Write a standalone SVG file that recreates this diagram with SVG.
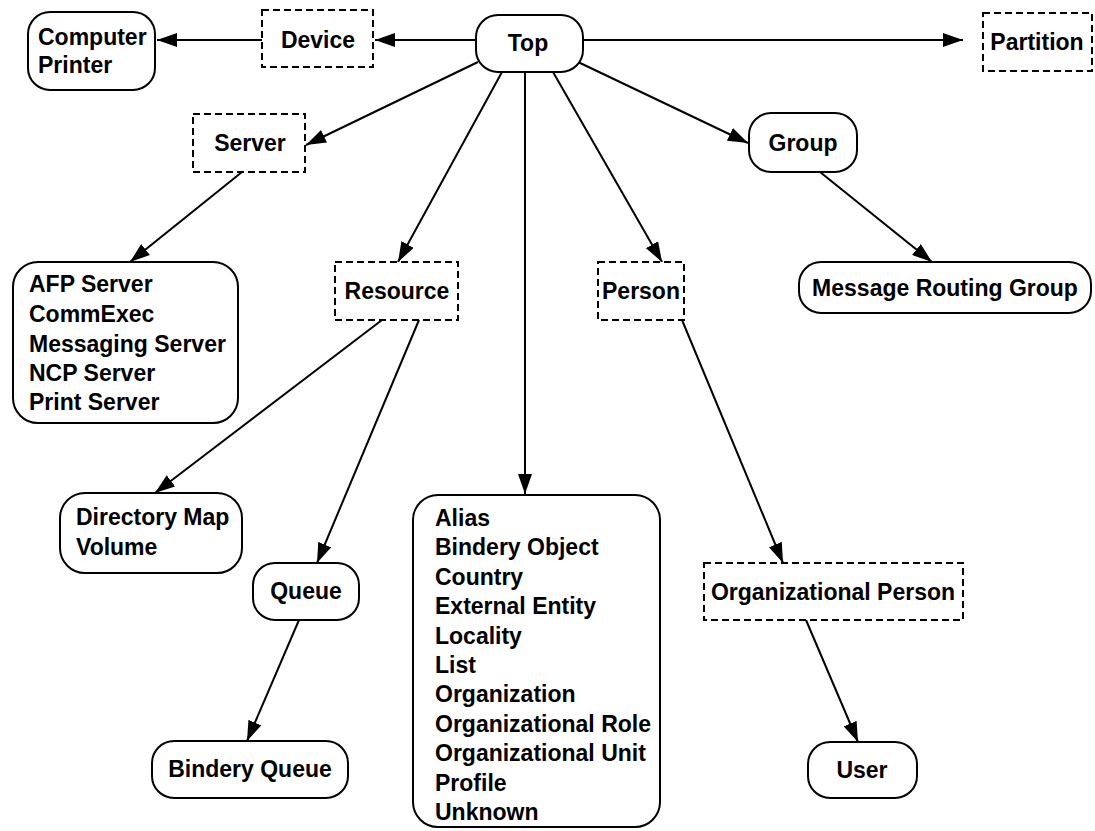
<svg xmlns="http://www.w3.org/2000/svg" width="1095" height="831" viewBox="0 0 1095 831">
<defs>
<marker id="ah" markerWidth="20" markerHeight="14" refX="20" refY="7" orient="auto" markerUnits="userSpaceOnUse">
<path d="M0,0 L20,7 L0,14 Z" fill="#000"/>
</marker>
<style>
.r{fill:#fff;stroke:#000;stroke-width:2}
.d{fill:#fff;stroke:#000;stroke-width:2;stroke-dasharray:7,4}
text{font-family:"Liberation Sans",Arial,sans-serif;font-weight:bold;font-size:23px;fill:#000}
.c{text-anchor:middle}
.e{fill:none;stroke:#000;stroke-width:2;marker-end:url(#ah)}
</style>
</defs>
<rect width="1095" height="831" fill="#fff"/>
<g id="connectors">
<line class="e" x1="262" y1="40" x2="157" y2="40"/>
<line class="e" x1="476" y1="40" x2="375" y2="40"/>
<line class="e" x1="583" y1="40" x2="963" y2="40"/>
<line class="e" x1="478" y1="62" x2="306" y2="145"/>
<line class="e" x1="578" y1="62" x2="748" y2="143"/>
<line class="e" x1="820" y1="172" x2="932" y2="262"/>
<line class="e" x1="242" y1="172" x2="130" y2="262"/>
<line class="e" x1="502" y1="72" x2="398" y2="262"/>
<line class="e" x1="525" y1="72" x2="525" y2="494"/>
<line class="e" x1="553" y1="72" x2="662" y2="262"/>
<line class="e" x1="682" y1="320" x2="783" y2="563"/>
<line class="e" x1="806" y1="620" x2="858" y2="742"/>
<line class="e" x1="382" y1="320" x2="155" y2="493"/>
<line class="e" x1="419" y1="320" x2="317" y2="563"/>
<line class="e" x1="299" y1="620" x2="247" y2="741"/>
</g>
<g id="computer">
<rect class="r" x="28" y="12" width="127" height="78" rx="22"/>
<text x="38" y="45">Computer</text>
<text x="38" y="73">Printer</text>
</g>
<g id="device">
<rect class="d" x="262" y="10" width="111" height="57"/>
<text class="c" x="318" y="48">Device</text>
</g>
<g id="top">
<rect class="r" x="476" y="15" width="107" height="57" rx="22"/>
<text class="c" x="528" y="51">Top</text>
</g>
<g id="partition">
<rect class="d" x="983" y="13" width="109" height="58"/>
<text class="c" x="1037" y="50">Partition</text>
</g>
<g id="server">
<rect class="d" x="193" y="114" width="112" height="58"/>
<text class="c" x="250" y="151">Server</text>
</g>
<g id="group">
<rect class="r" x="749" y="113" width="108" height="59" rx="22"/>
<text class="c" x="803" y="151">Group</text>
</g>
<g id="mrg">
<rect class="r" x="799" y="262" width="292" height="51" rx="22"/>
<text class="c" x="945" y="296">Message Routing Group</text>
</g>
<g id="servers">
<rect class="r" x="13" y="262" width="225" height="161" rx="25"/>
<text x="29" y="292">AFP Server</text>
<text x="29" y="322">CommExec</text>
<text x="29" y="352">Messaging Server</text>
<text x="29" y="381">NCP Server</text>
<text x="29" y="410">Print Server</text>
</g>
<g id="resource">
<rect class="d" x="335" y="262" width="123" height="58"/>
<text class="c" x="397" y="299">Resource</text>
</g>
<g id="person">
<rect class="d" x="598" y="262" width="86" height="58"/>
<text class="c" x="641" y="299">Person</text>
</g>
<g id="dirmap">
<rect class="r" x="60" y="493" width="182" height="80" rx="25"/>
<text x="76" y="525">Directory Map</text>
<text x="76" y="555">Volume</text>
</g>
<g id="queue">
<rect class="r" x="253" y="563" width="106" height="57" rx="22"/>
<text class="c" x="306" y="599">Queue</text>
</g>
<g id="binderyqueue">
<rect class="r" x="152" y="741" width="196" height="57" rx="22"/>
<text class="c" x="250" y="777">Bindery Queue</text>
</g>
<g id="list">
<rect class="r" x="413" y="495" width="247" height="332" rx="25"/>
<text x="435" y="526">Alias</text>
<text x="435" y="555">Bindery Object</text>
<text x="435" y="585">Country</text>
<text x="435" y="614">External Entity</text>
<text x="435" y="644">Locality</text>
<text x="435" y="673">List</text>
<text x="435" y="702">Organization</text>
<text x="435" y="732">Organizational Role</text>
<text x="435" y="761">Organizational Unit</text>
<text x="435" y="791">Profile</text>
<text x="435" y="820">Unknown</text>
</g>
<g id="orgperson">
<rect class="d" x="704" y="563" width="259" height="57"/>
<text class="c" x="833" y="600">Organizational Person</text>
</g>
<g id="user">
<rect class="r" x="808" y="742" width="109" height="56" rx="22"/>
<text class="c" x="862" y="778">User</text>
</g>
</svg>
